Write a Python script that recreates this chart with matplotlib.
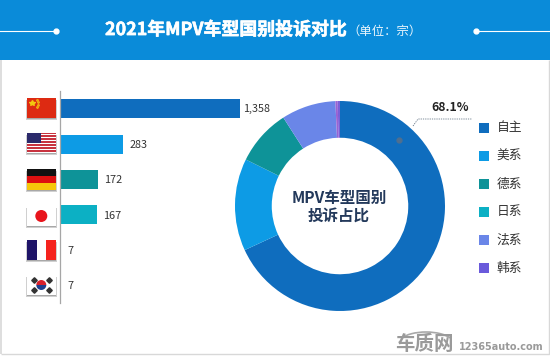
import matplotlib
matplotlib.use("Agg")
import matplotlib.pyplot as plt
import matplotlib.patheffects as pe
from matplotlib.patches import Rectangle, Circle, Wedge, Arc

plt.rcParams['font.family'] = ['Noto Sans CJK SC', 'DejaVu Sans']

# values
categories = ['自主', '美系', '德系', '日系', '法系', '韩系']
complaints = [1358, 283, 172, 167, 7, 7]
bar_colors = ['#0F6DBE', '#0D9BE5', '#0E9398', '#0CB0C4', '#5A6FD0', '#5A5AC8']
legend_colors = ['#0F6DBE', '#0D9BE5', '#0E9398', '#0CB0C4', '#6A86E8', '#6A5ADB']
# the donut shows 日系 in the periwinkle colour, 法系 and 韩系 as a purple sliver
pie_colors = ['#0F6DBE', '#0D9BE5', '#0E9398', '#6A86E8', '#9A62D2', '#7A5FD8']
share_label = '68.1%'

W, H = 550, 356
fig = plt.figure(figsize=(W / 100, H / 100), dpi=100, facecolor='white')


def px_axes(x0, y0, x1, y1):
    return fig.add_axes([x0 / W, 1 - y1 / H, (x1 - x0) / W, (y1 - y0) / H])


# overlay in pixel coordinates for header, flags, legend
bg = px_axes(0, 0, W, H)
bg.set_xlim(0, W)
bg.set_ylim(H, 0)
bg.axis('off')

bg.plot([1, 1], [60, 354], color='#D8D8D8', lw=1.2, solid_capstyle='butt')
bg.plot([1, 549, 549], [354, 354, 60], color='#D8D8D8', lw=1, solid_capstyle='butt')
bg.add_patch(Rectangle((0, 0), W, 60, fc='#0A8BD9', ec='none', zorder=3))
bg.plot([0, 55], [30.5, 30.5], color='white', lw=0.8, zorder=4)
bg.plot([475, W], [30.5, 30.5], color='white', lw=0.8, zorder=4)
bg.plot([55.5, 475.5], [30.5, 30.5], ls='none', marker='o', ms=3.5, color='white', zorder=4)
bg.text(105, 30, '2021年MPV车型国别投诉对比', color='white', fontsize=12.9,
        fontweight='bold', va='center', ha='left', zorder=4,
        path_effects=[pe.Stroke(linewidth=0.4, foreground='white'), pe.Normal()])
bg.text(347, 31, '（单位：宗）', color='#EAF5FC', fontsize=8.9, va='center', ha='left', zorder=4)


def flag_base(y0, y1, color='white'):
    bg.add_patch(Rectangle((26, y0 + 2), 30.5, y1 - y0, fc='#D0D0D0', ec='none'))
    bg.add_patch(Rectangle((26.5, y0 + 1), 29.5, y1 - y0, fc='#A8A8A8', ec='none'))
    bg.add_patch(Rectangle((26.5, y0), 29.5, y1 - y0, fc=color, ec='none'))


# China
flag_base(98, 117.5, '#DD2A12')
bg.plot([32], [103], marker='*', ms=4.2, color='#F2C80F', ls='none')
bg.plot([36.5, 38, 38, 36.5], [100, 102, 105, 107], marker='*', ms=1.5, color='#EFA010', ls='none')
# USA
flag_base(132.5, 152.5)
for i in range(7):
    bg.add_patch(Rectangle((26.5, 132.5 + i * 2.95), 29.5, 1.5, fc='#C8333F', ec='none'))
bg.add_patch(Rectangle((26.5, 132.5), 14.5, 10.5, fc='#2B2A6B', ec='none'))
# Germany
flag_base(169, 190, '#111111')
bg.add_patch(Rectangle((26.5, 176), 29.5, 7, fc='#DD1010', ec='none'))
bg.add_patch(Rectangle((26.5, 183), 29.5, 7, fc='#F6C70A', ec='none'))
# Japan
flag_base(206, 226)
bg.add_patch(Circle((41.3, 216), 6, fc='#E8141C', ec='none'))
# France
flag_base(239.5, 259.5)
bg.add_patch(Rectangle((26.5, 239.5), 10, 20, fc='#1E1468', ec='none'))
bg.add_patch(Rectangle((46, 239.5), 10, 20, fc='#F5231E', ec='none'))
# Korea, y axis runs downward here so 0-180 is the lower half
flag_base(275, 295)
bg.add_patch(Wedge((41.3, 285), 5, 0, 180, fc='#1F3F8F', ec='none'))
bg.add_patch(Wedge((41.3, 285), 5, 180, 360, fc='#D8202C', ec='none'))
for cx, cy in [(34, 280), (48.5, 280), (34, 290), (48.5, 290)]:
    bg.plot([cx], [cy], marker='D', ms=2.8, color='#333333', ls='none')

# bar chart, the long first bar runs out of the plot and is cut off at its edge
bar_ax = px_axes(59.5, 91, 240, 303)
bar_ax.patch.set_alpha(0)
positions = list(range(len(complaints)))
bar_ax.barh(positions, complaints, height=0.54, color=bar_colors)
bar_ax.set_xlim(0, 805)
bar_ax.set_ylim(5.49, -0.5)
bar_ax.set_xticks([])
bar_ax.set_yticks([])
for side in ['top', 'right', 'bottom']:
    bar_ax.spines[side].set_visible(False)
bar_ax.spines['left'].set_color('#A6A6A6')
bar_ax.spines['left'].set_linewidth(0.9)
for pos, val in zip(positions, complaints):
    bar_ax.annotate(f'{val:,}', (min(val, 805), pos), xytext=(4.5 if val < 800 else 2.5, -0.5),
                    textcoords='offset points', va='center', ha='left',
                    fontsize=7.8, color='#333333', annotation_clip=False)

# donut
pie_ax = px_axes(235, 101, 445, 311)
pie_ax.patch.set_alpha(0)
pie_ax.pie(complaints, colors=pie_colors, startangle=90, counterclock=False, radius=1,
           wedgeprops={'width': 0.35, 'linewidth': 0})
pie_ax.set_xlim(-1, 1)
pie_ax.set_ylim(-1, 1)

# texts over the donut
top = px_axes(0, 0, W, H)
top.set_xlim(0, W)
top.set_ylim(H, 0)
top.axis('off')
top.text(339.5, 197.5, 'MPV车型国别', color='#23395B', fontsize=11.2, fontweight='bold', ha='center', va='center')
top.text(339, 215.5, '投诉占比', color='#23395B', fontsize=11.2, fontweight='bold', ha='center', va='center')
top.plot([399], [140], marker='o', ms=3.5, color='#4F6F8F', ls='none')
top.plot([413, 418, 472], [126, 119, 119], color='#667788', lw=0.6, ls=(0, (1.5, 1.2)))
top.text(450.5, 107.5, share_label, color='#222222', fontsize=8.8, fontweight='bold', ha='center', va='center')

# legend
for i, (name, color) in enumerate(zip(categories, legend_colors)):
    y = 128 + i * 28
    top.add_patch(Rectangle((479, y - 4.7), 9.5, 9.5, fc=color, ec='none'))
    top.text(496.5, y, name, color='#333333', fontsize=9.2, ha='left', va='center')

# watermark
top.add_patch(Arc((426, 345), 58, 26, theta1=195, theta2=345, color='#A8A8A8', lw=1.2))
top.text(395, 344, '车质网', color='#9A9A9A', fontsize=14, fontweight='bold', ha='left', va='center')
top.text(459, 347, '12365auto.com', color='#9A9A9A', fontsize=7, fontweight='bold',
         family='DejaVu Sans', ha='left', va='center')

fig.savefig('out.png', dpi=100, facecolor='white')
